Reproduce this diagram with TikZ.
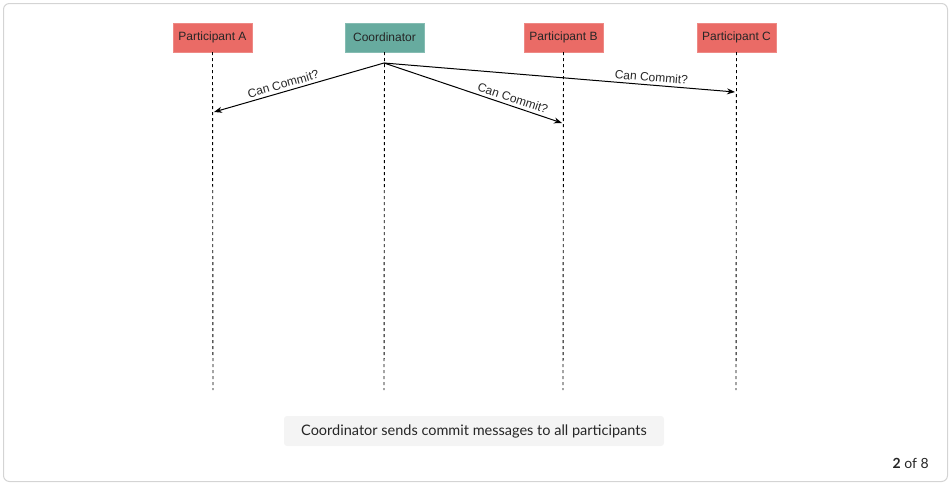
\documentclass[tikz,border=0pt]{standalone}
\usepackage{fontspec}
\setmainfont{Liberation Sans}
\newfontfamily\capfont{Lato}
\usetikzlibrary{arrows.meta}
\definecolor{partred}{HTML}{EA6B66}
\definecolor{coordteal}{HTML}{67AB9F}
\definecolor{framegray}{HTML}{D4D4D4}
\definecolor{capbg}{HTML}{F4F4F4}
\begin{document}
\begin{tikzpicture}[x=1pt,y=-1pt,
  actor/.style={minimum width=79pt,minimum height=29pt,inner sep=0pt,font=\fontsize{12}{14}\selectfont,text=black!85},
  lifeline/.style={draw=black,line width=0.9pt,dash pattern=on 3pt off 3pt},
  msg/.style={draw=black,line width=1pt,-{Stealth[length=8pt,width=6pt]}},
  msglabel/.style={font=\fontsize{12}{14}\selectfont,sloped,above,inner sep=3pt,text=black!85}]
\useasboundingbox (0,0) rectangle (951,485);
\draw[framegray,rounded corners=6pt,line width=1pt] (3.5,3.5) rectangle (947.5,481.5);
\node[actor,fill=partred,draw=partred!80!white] (pa) at (212.5,37.5) {Participant A};
\node[actor,fill=coordteal,draw=coordteal!80!white] (co) at (384.5,37.5) {Coordinator};
\node[actor,fill=partred,draw=partred!80!white] (pb) at (563.5,37.5) {Participant B};
\node[actor,fill=partred,draw=partred!80!white] (pc) at (736.5,37.5) {Participant C};
\coordinate (ea) at (213,390);
\coordinate (ec) at (384,390);
\coordinate (eb) at (563,390);
\coordinate (ed) at (736,390);
\draw[lifeline] (pa.south) -- (ea);
\draw[lifeline] (co.south) -- (ec);
\draw[lifeline] (pb.south) -- (eb);
\draw[lifeline] (pc.south) -- (ed);
\coordinate (src) at (384,63);
\coordinate (ta) at (214,112);
\coordinate (tb) at (562,123);
\coordinate (tc) at (735,92);
\draw[msg] (src) -- node[msglabel,pos=0.58] {Can Commit?} (ta);
\draw[msg] (src) -- node[msglabel,pos=0.71] {Can Commit?} (tb);
\draw[msg] (src) -- node[msglabel,pos=0.76] {Can Commit?} (tc);
\node[fill=capbg,rounded corners=3pt,minimum width=380pt,minimum height=30pt,inner sep=0pt,font=\capfont\fontsize{14.5}{16}\selectfont,text=black!85] (cap) at (474,431) {Coordinator sends commit messages to all participants};
\node[anchor=east,font=\capfont\fontsize{14}{16}\selectfont,text=black!85,inner sep=0pt] (pg) at (929,463) {\textbf{2} of 8};
\end{tikzpicture}
\end{document}
